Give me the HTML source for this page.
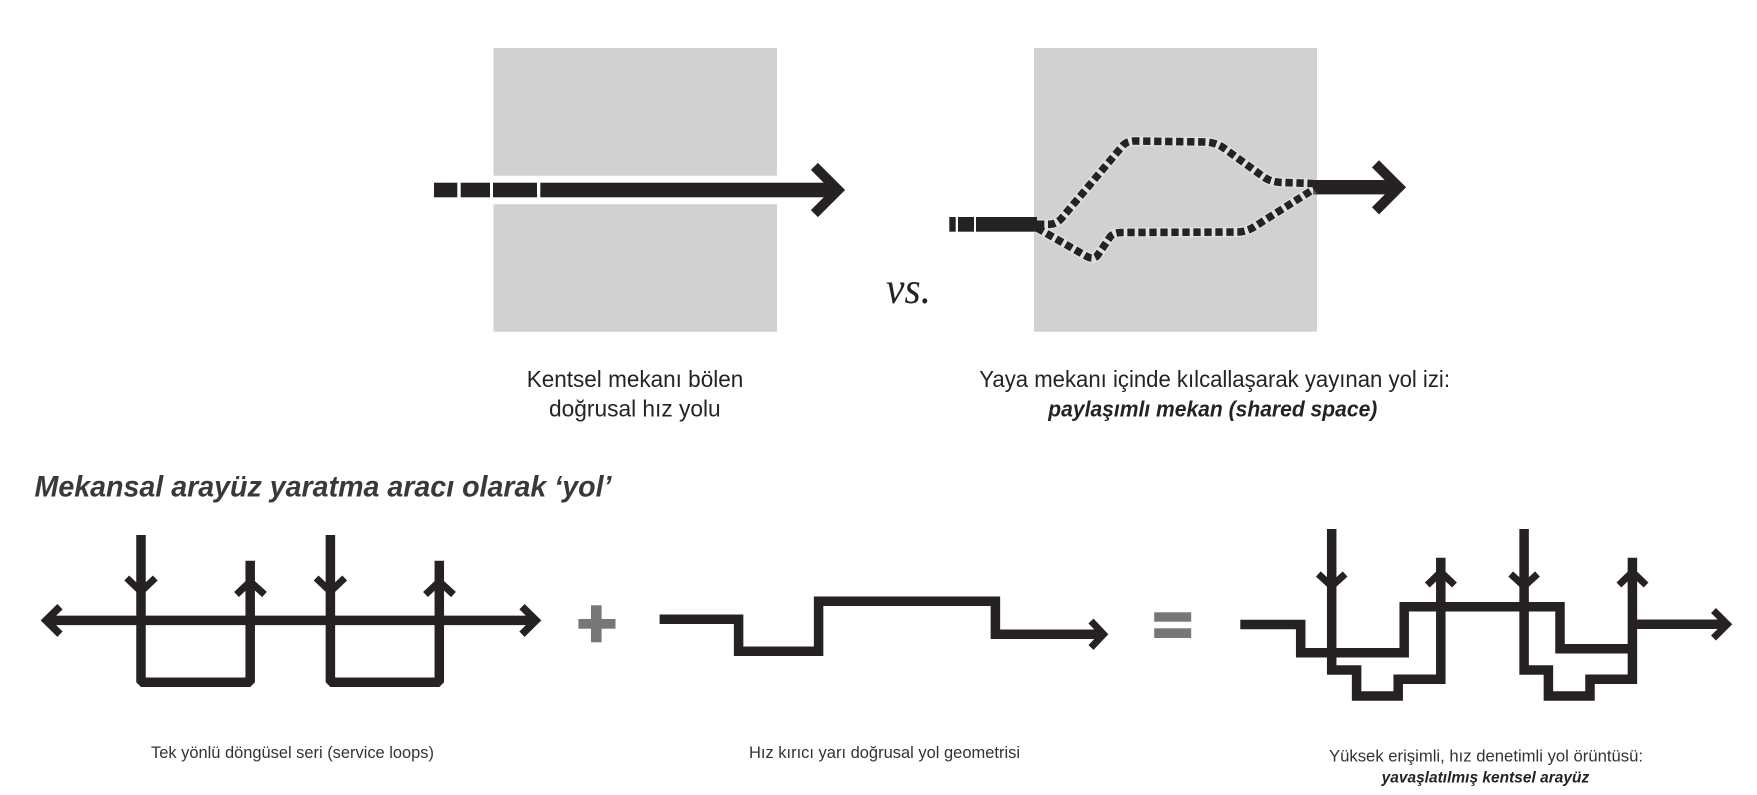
<!DOCTYPE html>
<html lang="tr">
<head>
<meta charset="utf-8">
<title>Mekansal arayüz yaratma aracı olarak yol</title>
<style>
html,body{margin:0;padding:0;background:#fff;width:1757px;height:795px;overflow:hidden}
svg{display:block}
text{font-family:"Liberation Sans",sans-serif;fill:#262223}
.r{stroke:#262223;stroke-width:9.5;fill:none;stroke-linejoin:miter}
.c{stroke:#262223;stroke-width:7;fill:none;stroke-linejoin:miter}
</style>
</head>
<body>
<svg width="1757" height="795" viewBox="0 0 1757 795" xmlns="http://www.w3.org/2000/svg">
<rect width="1757" height="795" fill="#fff"/>

<!-- top left -->
<rect x="493.5" y="48" width="283.5" height="127.7" fill="#d1d1d1"/>
<rect x="493.5" y="204.3" width="283.5" height="127.4" fill="#d1d1d1"/>
<g fill="#262223">
<rect x="434" y="182.7" width="23.3" height="14.6"/>
<rect x="460.7" y="182.7" width="29.3" height="14.6"/>
<rect x="493" y="182.7" width="44" height="14.6"/>
<rect x="540.3" y="182.7" width="297" height="14.6"/>
</g>
<polyline points="814.4,166.4 838,190 814.4,213.6" fill="none" stroke="#262223" stroke-width="10"/>

<!-- top right -->
<rect x="1034" y="48" width="283" height="283.7" fill="#d1d1d1"/>
<g fill="#262223">
<rect x="949.3" y="217" width="6.4" height="14.7"/>
<rect x="958" y="217" width="16" height="14.7"/>
<rect x="976" y="217" width="61" height="14.7"/>
<rect x="1313" y="180" width="86" height="14.4"/>
</g>
<polyline points="1375.5,163.8 1399,187.3 1375.5,210.8" fill="none" stroke="#262223" stroke-width="10"/>
<g fill="none" stroke-linejoin="round">
<path d="M1037 224.3 L1050 224.3 Q1056 224 1061 219 L1122 146.5 Q1126 141 1135 141 L1205 142 Q1216 142.5 1223 147.5 L1263 176.5 Q1270 182 1282 182.5 L1313 183.5" stroke="#fff" stroke-opacity=".3" stroke-width="10"/>
<path d="M1037 228 L1086 256 Q1093 260 1097 256 Q1102 249 1110 237 Q1113 232.5 1122 232.5 L1238 232 Q1247 231.5 1254 227 L1314 189" stroke="#fff" stroke-opacity=".3" stroke-width="10"/>
<path d="M1037 224.3 L1050 224.3 Q1056 224 1061 219 L1122 146.5 Q1126 141 1135 141 L1205 142 Q1216 142.5 1223 147.5 L1263 176.5 Q1270 182 1282 182.5 L1313 183.5" stroke="#262223" stroke-width="7.6" stroke-dasharray="7.3 3.7"/>
<path d="M1037 228 L1086 256 Q1093 260 1097 256 Q1102 249 1110 237 Q1113 232.5 1122 232.5 L1238 232 Q1247 231.5 1254 227 L1314 189" stroke="#262223" stroke-width="7.6" stroke-dasharray="7.3 3.7"/>
</g>

<text x="886" y="303" font-size="44" style="font-family:'Liberation Serif',serif;font-style:italic" textLength="45" lengthAdjust="spacingAndGlyphs">vs.</text>

<text x="526.7" y="387" font-size="23" textLength="216.6" lengthAdjust="spacingAndGlyphs">Kentsel mekanı bölen</text>
<text x="549" y="416.7" font-size="23" textLength="171.7" lengthAdjust="spacingAndGlyphs">doğrusal hız yolu</text>
<text x="979.3" y="387" font-size="23" textLength="470.7" lengthAdjust="spacingAndGlyphs">Yaya mekanı içinde kılcallaşarak yayınan yol izi:</text>
<text x="1048.3" y="416.7" font-size="22.5" font-weight="bold" font-style="italic" textLength="329" lengthAdjust="spacingAndGlyphs">paylaşımlı mekan (shared space)</text>

<text x="34.5" y="496.7" font-size="30" font-weight="bold" font-style="italic" style="fill:#3a3839" textLength="577" lengthAdjust="spacingAndGlyphs">Mekansal arayüz yaratma aracı olarak ‘yol’</text>

<!-- bottom left -->
<line x1="46" y1="620.4" x2="536" y2="620.4" class="r"/>
<polyline points="141,535 141,682.3 250.2,682.3 250.2,560.7" class="r" style="stroke-linejoin:bevel"/>
<polyline points="330.4,535 330.4,682.3 439.3,682.3 439.3,560.7" class="r" style="stroke-linejoin:bevel"/>
<polyline class="c" style="stroke-width:7.5" points="60,606.7 46,620.4 60,634.2"/>
<polyline class="c" style="stroke-width:7.5" points="522,606.7 536,620.4 522,634.2"/>
<polyline class="c" points="126.7,578 141,591.5 155.3,578"/>
<polyline class="c" points="236.5,594.5 250.2,581.5 264.5,594.5"/>
<polyline class="c" points="316.1,578 330.4,591.5 344.7,578"/>
<polyline class="c" points="425.5,594.5 439.3,581.5 453.5,594.5"/>
<text x="151" y="758" font-size="16.5" style="fill:#333" textLength="283" lengthAdjust="spacingAndGlyphs">Tek yönlü döngüsel seri (service loops)</text>

<!-- plus / equals -->
<g fill="#777">
<rect x="591" y="605.3" width="10.6" height="37"/>
<rect x="578.4" y="619" width="37.1" height="9.7"/>
<rect x="1154.2" y="612.3" width="37" height="9.4"/>
<rect x="1154.2" y="628.3" width="37" height="9.7"/>
</g>

<!-- bottom middle -->
<polyline class="r" points="659.6,619.3 738.6,619.3 738.6,651.2 818.6,651.2 818.6,601.3 995.4,601.3 995.4,634.3 1103,634.3"/>
<polyline class="c" points="1091,621 1103.5,634.3 1091,647.5"/>
<text x="749" y="758" font-size="16.5" style="fill:#333" textLength="271" lengthAdjust="spacingAndGlyphs">Hız kırıcı yarı doğrusal yol geometrisi</text>

<!-- bottom right -->
<polyline class="r" points="1240.3,624.5 1300.7,624.5 1300.7,652.7 1404.2,652.7 1404.2,606.7 1560,606.7 1560,648.8 1632.4,648.8"/>
<line class="r" x1="1628" y1="624.3" x2="1727" y2="624.3"/>
<polyline class="r" points="1331.7,529 1331.7,670 1356.6,670 1356.6,696 1398.2,696 1398.2,679.2 1440.8,679.2 1440.8,557.7"/>
<polyline class="r" points="1524.1,529 1524.1,670 1548.4,670 1548.4,696 1590,696 1590,679.2 1632.4,679.2 1632.4,557.7"/>
<polyline class="c" points="1318.3,574 1331.7,586.3 1345.1,574"/>
<polyline class="c" points="1427.3,585 1440.8,572 1454.5,585"/>
<polyline class="c" points="1510.7,574 1524.1,586.3 1537.5,574"/>
<polyline class="c" points="1618.9,585 1632.4,572 1646.1,585"/>
<polyline class="c" points="1713.5,610.5 1727.3,624.3 1713.5,638"/>
<text x="1329" y="761.7" font-size="16.5" style="fill:#333" textLength="314" lengthAdjust="spacingAndGlyphs">Yüksek erişimli, hız denetimli yol örüntüsü:</text>
<text x="1381.6" y="782.7" font-size="16" font-weight="bold" font-style="italic" textLength="207.6" lengthAdjust="spacingAndGlyphs">yavaşlatılmış kentsel arayüz</text>
</svg>
</body>
</html>
